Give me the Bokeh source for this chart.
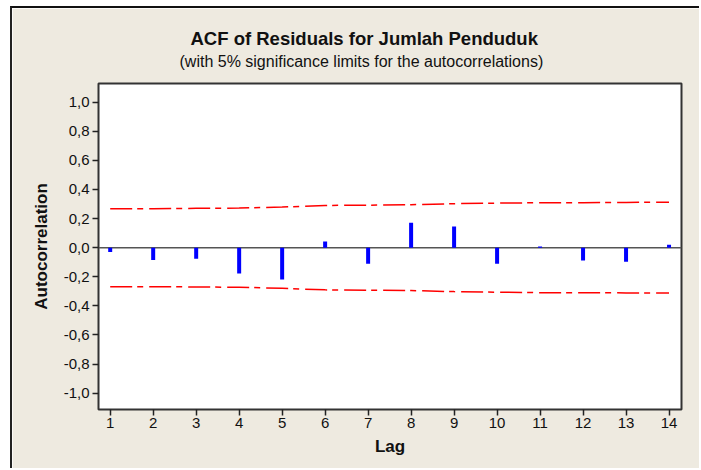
from bokeh.plotting import figure
from bokeh.models import Range1d, FixedTicker, Span, Title
from bokeh.embed import file_html
from bokeh.resources import INLINE

# ---- data ----
lags = [1, 2, 3, 4, 5, 6, 7, 8, 9, 10, 11, 12, 13, 14]
acf = [-0.030, -0.085, -0.077, -0.178, -0.219, 0.043, -0.110,
       0.172, 0.145, -0.110, 0.008, -0.088, -0.097, 0.020]
upper_limit = [0.268, 0.268, 0.270, 0.272, 0.279, 0.290, 0.292,
               0.295, 0.302, 0.306, 0.309, 0.309, 0.311, 0.312]
lower_limit = [-0.268, -0.268, -0.270, -0.272, -0.279, -0.290, -0.292,
               -0.295, -0.302, -0.306, -0.309, -0.309, -0.311, -0.312]
y_tick_values = [-1.0, -0.8, -0.6, -0.4, -0.2, 0.0, 0.2, 0.4, 0.6, 0.8, 1.0]
y_tick_labels = ["-1,0", "-0,8", "-0,6", "-0,4", "-0,2", "0,0",
                 "0,2", "0,4", "0,6", "0,8", "1,0"]
title_text = "ACF of Residuals for Jumlah Penduduk"
subtitle_text = "(with 5% significance limits for the autocorrelations)"
x_label = "Lag"
y_label = "Autocorrelation"

FONT = "Liberation Sans"
BG = "#EEEAE0"

p = figure(width=689, height=462, output_backend="svg", toolbar_location=None,
           x_range=Range1d(0.728, 14.29), y_range=Range1d(-1.112, 1.128),
           min_border_left=86, min_border_right=20,
           min_border_top=75, min_border_bottom=61,
           border_fill_color=BG, background_fill_color="white", title=None)
p.styles = {"margin-left": "10px", "margin-top": "6px",
            "border-top": "2px solid #111111", "border-left": "2px solid #222222"}

p.outline_line_color = "#333333"
p.outline_line_width = 2
p.xgrid.visible = False
p.ygrid.visible = False

p.xaxis.ticker = FixedTicker(ticks=lags)
p.yaxis.ticker = FixedTicker(ticks=y_tick_values)
p.yaxis.major_label_overrides = dict(zip(y_tick_values, y_tick_labels))

for ax in (p.xaxis[0], p.yaxis[0]):
    ax.axis_line_color = None
    ax.major_tick_out = 6
    ax.major_tick_in = 0
    ax.minor_tick_out = 0
    ax.minor_tick_in = 0
    ax.major_tick_line_color = "#222222"
    ax.major_tick_line_width = 1.5
    ax.major_label_text_font = FONT
    ax.major_label_text_font_size = "15px"
    ax.major_label_text_color = "#111111"
    ax.axis_label_text_font = FONT
    ax.axis_label_text_font_style = "bold"
    ax.axis_label_text_font_size = "17px"
    ax.axis_label_text_color = "#111111"

p.xaxis.axis_label = x_label
p.yaxis.axis_label = y_label
p.yaxis.major_label_standoff = 3
p.yaxis.axis_label_standoff = 10
p.xaxis.major_label_standoff = 2
p.xaxis.axis_label_standoff = 6

p.add_layout(Span(location=0, dimension="width", line_color="#555555",
                  line_width=1.5, level="underlay"))

p.line(lags, upper_limit, line_color="#FF0000", line_width=1.5, line_dash="22 5 6 6")
p.line(lags, lower_limit, line_color="#FF0000", line_width=1.5, line_dash="22 5 6 6")

p.segment(x0=lags, y0=[0] * len(lags), x1=lags, y1=acf,
          line_color="#0000FF", line_width=4)

# subtitle first (closest to the frame), then the main title above it
p.add_layout(Title(text=subtitle_text, align="left", offset=81,
                   text_font=FONT, text_font_style="normal", text_font_size="16px",
                   text_color="#111111", standoff=27), "above")
p.add_layout(Title(text=title_text, align="left", offset=92,
                   text_font=FONT, text_font_style="bold", text_font_size="18.5px",
                   text_color="#111111", standoff=-22), "above")

open("out.html", "w").write(file_html(p, INLINE))
